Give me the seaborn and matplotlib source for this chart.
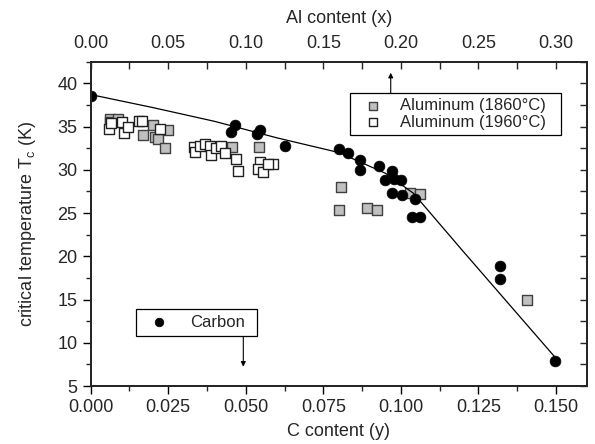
import numpy as np
import pandas as pd
import seaborn as sns
import matplotlib.pyplot as plt
from matplotlib.ticker import MultipleLocator

# Carbon doped samples: C content (y) and Tc (K)
carbon_y = [0.000, 0.0464, 0.0453, 0.0545, 0.0536, 0.0627, 0.0799, 0.0829,
            0.0869, 0.0869, 0.0928, 0.0970, 0.0949, 0.0979, 0.1001, 0.0970,
            0.1003, 0.1047, 0.1036, 0.1063, 0.1319, 0.1319, 0.1497]
carbon_tc = [38.5, 35.2, 34.4, 34.6, 34.1, 32.8, 32.4, 31.95,
             31.1, 30.0, 30.45, 29.85, 28.85, 28.95, 28.8, 27.35,
             27.1, 26.6, 24.5, 24.5, 18.9, 17.4, 7.9]

# Aluminum samples, plotted against the C axis (x_Al = 2 * y_C)
al1860_y = [0.0062, 0.0062, 0.0089, 0.0169, 0.0201, 0.0207, 0.0218, 0.0250,
            0.0239, 0.0454, 0.0541, 0.0808, 0.0799, 0.0891, 0.0922, 0.1030,
            0.1060, 0.1408]
al1860_tc = [35.9, 35.5, 35.9, 34.0, 35.2, 33.8, 33.6, 34.6,
             32.5, 32.65, 32.6, 28.0, 25.3, 25.6, 25.3, 27.35,
             27.2, 14.9]

al1960_y = [0.0059, 0.0065, 0.0100, 0.0108, 0.0119, 0.0155, 0.0166, 0.0223,
            0.0333, 0.0336, 0.0352, 0.0370, 0.0384, 0.0389, 0.0405, 0.0421,
            0.0432, 0.0470, 0.0475, 0.0545, 0.0539, 0.0555, 0.0588, 0.0571]
al1960_tc = [34.7, 35.4, 35.5, 34.2, 35.0, 35.6, 35.7, 34.7,
             32.65, 32.1, 32.8, 33.0, 32.7, 31.7, 32.5, 32.8,
             31.9, 31.3, 29.9, 30.9, 30.1, 29.75, 30.7, 30.7]

# guide line through the carbon data
fit_y = [0.000, 0.020, 0.040, 0.060, 0.080, 0.095, 0.104, 0.120, 0.135, 0.150]
fit_tc = [38.7, 37.2, 35.6, 33.7, 32.0, 29.6, 27.3, 20.6, 14.4, 8.2]

sns.set_style("ticks")
plt.rcParams['font.family'] = ['Liberation Sans', 'DejaVu Sans']
plt.rcParams['mathtext.fontset'] = 'custom'
plt.rcParams['mathtext.rm'] = 'Liberation Sans'
plt.rcParams['mathtext.it'] = 'Liberation Sans'

fig = plt.figure(figsize=(5.95, 4.44), dpi=100)
ax = fig.add_axes([0.1524, 0.1306, 0.8342, 0.7304])

fit_df = pd.DataFrame({'y': fit_y, 'tc': fit_tc})
sns.lineplot(data=fit_df, x='y', y='tc', ax=ax, color='black', lw=0.9,
             sort=False, estimator=None)

sns.scatterplot(x=al1860_y, y=al1860_tc, ax=ax, marker='s', s=46,
                color='#c0c0c0', edgecolor='#404040', linewidth=1.0,
                label='Aluminum (1860°C)')
sns.scatterplot(x=al1960_y, y=al1960_tc, ax=ax, marker='s', s=46,
                color='white', edgecolor='#202020', linewidth=1.0,
                label='Aluminum (1960°C)')
sns.scatterplot(x=carbon_y, y=carbon_tc, ax=ax, marker='o', s=60,
                color='black', edgecolor='black', linewidth=0.5,
                label='Carbon')

ax.set_xlim(0, 0.16)
ax.set_ylim(5, 42.5)
ax.xaxis.set_major_locator(MultipleLocator(0.025))
ax.xaxis.set_minor_locator(MultipleLocator(0.0125))
ax.yaxis.set_major_locator(MultipleLocator(5))
ax.yaxis.set_minor_locator(MultipleLocator(2.5))
ax.set_xticks([0, 0.025, 0.05, 0.075, 0.1, 0.125, 0.15])
ax.set_xticklabels(['0.000', '0.025', '0.050', '0.075', '0.100', '0.125', '0.150'])
ax.tick_params(axis='both', which='major', labelsize=13, length=6, width=1,
               direction='out', color='black')
ax.tick_params(axis='both', which='minor', length=3.5, width=1, direction='out')
for sp in ax.spines.values():
    sp.set_visible(True)
    sp.set_linewidth(1.2)
    sp.set_color('black')

ax.set_xlabel('C content (y)', fontsize=13, labelpad=5)
ax.set_ylabel('critical temperature T$_\\mathregular{c}$ (K)', fontsize=13, labelpad=14)

# right mirror ticks (inward)
axr = ax.twinx()
axr.set_ylim(ax.get_ylim())
axr.yaxis.set_major_locator(MultipleLocator(5))
axr.yaxis.set_minor_locator(MultipleLocator(2.5))
axr.tick_params(axis='y', which='both', direction='in', length=5, width=1,
                labelright=False)

# top axis: Al content
axt = ax.twiny()
axt.set_xlim(0, 0.32)
axt.xaxis.set_major_locator(MultipleLocator(0.05))
axt.xaxis.set_minor_locator(MultipleLocator(0.025))
axt.set_xticks([0, 0.05, 0.1, 0.15, 0.2, 0.25, 0.3])
axt.set_xticklabels(['0.00', '0.05', '0.10', '0.15', '0.20', '0.25', '0.30'])
axt.tick_params(axis='x', which='major', direction='in', length=5, width=1,
                labelsize=13, pad=7)
axt.tick_params(axis='x', which='minor', direction='in', length=5, width=1)
axt.set_xlabel('Al content (x)', fontsize=13, labelpad=8.5)
for a in (axr, axt):
    for sp in a.spines.values():
        sp.set_linewidth(1.2)

# legends
handles, labels = ax.get_legend_handles_labels()
h_al = [handles[labels.index('Aluminum (1860°C)')], handles[labels.index('Aluminum (1960°C)')]]
h_c = [handles[labels.index('Carbon')]]
leg_al = ax.legend(h_al, ['Aluminum (1860°C)', 'Aluminum (1960°C)'],
                   loc='upper left', bbox_to_anchor=(0.5225, 0.789, 0.425, 0.1145),
                   mode='expand', frameon=True, fancybox=False, framealpha=1,
                   edgecolor='black', fontsize=12, handletextpad=0.6,
                   borderpad=0.3, labelspacing=0.1, handlelength=2.1,
                   markerscale=0.8, borderaxespad=0)
leg_al.get_frame().set_linewidth(0.9)
ax.add_artist(leg_al)
leg_c = ax.legend(h_c, ['Carbon'], loc='upper left',
                  bbox_to_anchor=(0.0913, 0.154, 0.2437, 0.0834), mode='expand',
                  frameon=True, fancybox=False, framealpha=1, edgecolor='black',
                  fontsize=12, handletextpad=0.8, borderpad=0.35,
                  handlelength=2.1, markerscale=0.8, borderaxespad=0)
leg_c.get_frame().set_linewidth(0.9)

arrow = dict(arrowstyle='-|>', lw=0.8, mutation_scale=7, color='black',
             shrinkA=0, shrinkB=0)
ax.annotate('', xy=(0.6045, 0.966), xytext=(0.6045, 0.9035),
            xycoords='axes fraction', arrowprops=arrow)
ax.annotate('', xy=(0.3075, 0.0595), xytext=(0.3075, 0.154),
            xycoords='axes fraction', arrowprops=arrow)

fig.savefig('out.png', dpi=100)
